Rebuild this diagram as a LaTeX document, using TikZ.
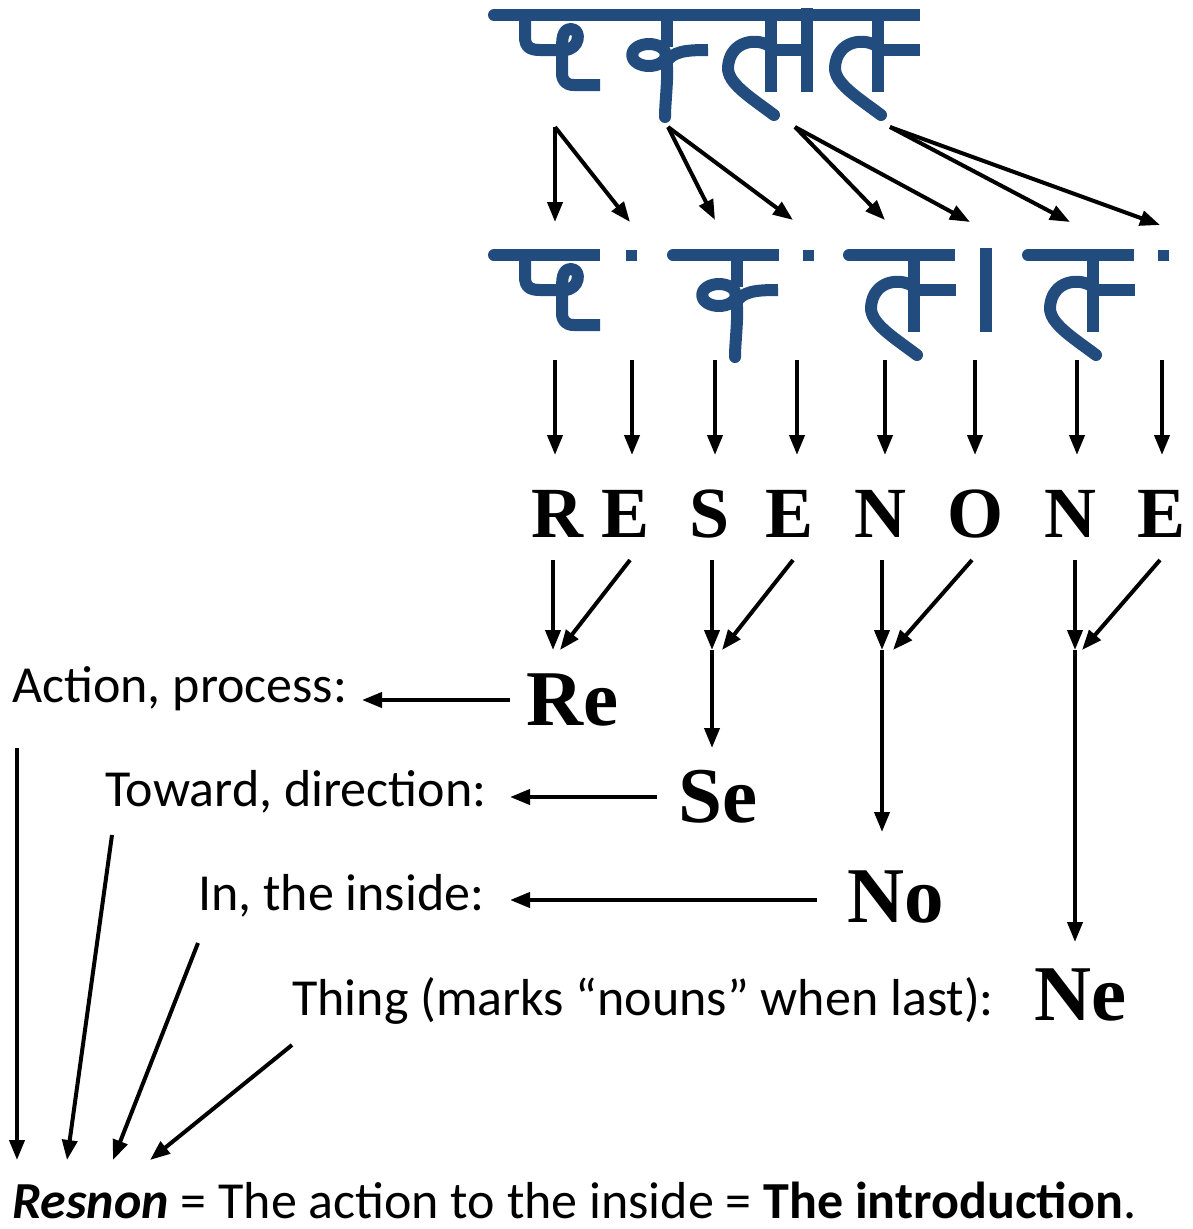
\documentclass[tikz,border=0pt]{standalone}
\usepackage{fontspec}
\setmainfont{Carlito}
\newfontfamily\serifb{Liberation Serif}
\usetikzlibrary{arrows.meta}
\definecolor{glyphblue}{HTML}{224B7E}
\begin{document}
\begin{tikzpicture}[x=1pt,y=-1pt,
  arr/.style={line width=4pt,-{Triangle[length=20pt,width=15pt]}},
  stroke/.style={glyphblue,line width=12pt,line cap=butt,line join=round},
  lbl/.style={font=\fontsize{52}{60}\selectfont,anchor=base west,inner sep=0pt},
  big/.style={font=\serifb\bfseries\fontsize{79}{90}\selectfont,anchor=base,inner sep=0pt},
  letr/.style={font=\serifb\bfseries\fontsize{72}{80}\selectfont,anchor=base,inner sep=0pt},
  gpa/.pic={
    \draw[stroke] (37,0) -- (37,22) .. controls (37,32) and (42,35) .. (52,35) -- (76,35)
      .. controls (92,35) and (94,14) .. (83,14) .. controls (74,14) and (74,25) .. (74,35)
      -- (74,58) .. controls (74,66) and (78,70) .. (86,70) -- (112,70);
  },
  gka/.pic={
    \draw[stroke] (70,0) -- (70,32);
    \draw[stroke] (52,40) ellipse [x radius=17pt, y radius=11pt];
    \draw[stroke,line cap=round] (69,42) .. controls (72,60) and (68,85) .. (68,102);
    \draw[stroke] (69,48) .. controls (75,36) and (90,35) .. (111,35);
  },
  gla/.pic={
    \draw[stroke] (71,0) -- (71,77);
    \draw[stroke] (71,35) -- (113,35);
    \draw[stroke,line cap=round] (71,32) .. controls (58,22) and (30,25) .. (28,52)
      .. controls (27,68) and (50,82) .. (74,100);
  },
  headbar/.pic={
    \fill[glyphblue] (6,0) circle (6pt);
    \draw[stroke] (6,0) -- (\barlen,0);
  }
]
\useasboundingbox (0,0) rectangle (1192,1229);

% ---------- top word ----------
\def\barlen{432}
\pic at (488,15) {headbar};
\pic at (488,15) {gpa};
\pic at (597,15) {gka};
\pic at (700,15) {gla};
\draw[stroke] (807,8) -- (807,92);
\pic at (807,15) {gla};

% ---------- middle row ----------
\def\barlen{112}
\pic at (488,255) {headbar};
\pic at (488,255) {gpa};
\pic at (667,255) {headbar};
\pic at (667,255) {gka};
\pic at (843,255) {headbar};
\pic at (843,255) {gla};
\draw[stroke] (986,248) -- (986,332);
\pic at (1022,255) {headbar};
\pic at (1022,255) {gla};
\fill[glyphblue] (625.5,249.5) rectangle +(11,11);
\fill[glyphblue] (802.5,249.5) rectangle +(11,11);
\fill[glyphblue] (1157.5,249.5) rectangle +(11,11);

% ---------- arrows top -> middle ----------
\coordinate (a1) at (555,127);
\coordinate (a2) at (668,127);
\coordinate (a3) at (795,127);
\coordinate (a4) at (890,127);
\coordinate (b1) at (555,222);
\coordinate (b2) at (630,222);
\coordinate (b3) at (715,220);
\coordinate (b4) at (793,220);
\coordinate (b5) at (885,220);
\coordinate (b6) at (970,222);
\coordinate (b7) at (1070,222);
\coordinate (b8) at (1160,225);
\draw[arr] (a1) -- (b1);
\draw[arr] (a1) -- (b2);
\draw[arr] (a2) -- (b3);
\draw[arr] (a2) -- (b4);
\draw[arr] (a3) -- (b5);
\draw[arr] (a3) -- (b6);
\draw[arr] (a4) -- (b7);
\draw[arr] (a4) -- (b8);

% ---------- middle -> letters ----------
\foreach \i/\x in {1/555,2/632,3/715,4/797,5/885,6/975,7/1077,8/1162}{
  \coordinate (m\i) at (\x,360);
  \coordinate (n\i) at (\x,455);
  \draw[arr] (m\i) -- (n\i);
}

% ---------- letters ----------
\node[letr] (L1) at (557,537) {R};
\node[letr] (L2) at (626,537) {E};
\node[letr] (L3) at (710,537) {S};
\node[letr] (L4) at (790,537) {E};
\node[letr] (L5) at (880,537) {N};
\node[letr] (L6) at (975,537) {O};
\node[letr] (L7) at (1070,537) {N};
\node[letr] (L8) at (1161,537) {E};

% ---------- merged syllables ----------
\node[big] (Re) at (573,725) {Re};
\node[big] (Se) at (718,822) {Se};
\node[big] (No) at (896,922) {No};
\node[big] (Ne) at (1081,1020) {Ne};

\coordinate (r1) at (553,560); \coordinate (r2) at (630,560); \coordinate (rm) at (553,650); \coordinate (rm2) at (560,650);
\coordinate (s1) at (712,560); \coordinate (s2) at (793,560); \coordinate (sm) at (712,650); \coordinate (sm2) at (722,650); \coordinate (se) at (712,748);
\coordinate (o1) at (882,560); \coordinate (o2) at (972,560); \coordinate (om) at (882,650); \coordinate (om2) at (893,650); \coordinate (oe) at (882,832);
\coordinate (e1) at (1075,560); \coordinate (e2) at (1160,560); \coordinate (em) at (1075,650); \coordinate (em2) at (1082,650); \coordinate (ee) at (1075,942);
\draw[arr] (r1) -- (rm);
\draw[arr] (r2) -- (rm2);
\draw[arr] (s1) -- (sm);
\draw[arr] (s2) -- (sm2);
\draw[arr] (sm) -- (se);
\draw[arr] (o1) -- (om);
\draw[arr] (o2) -- (om2);
\draw[arr] (om) -- (oe);
\draw[arr] (e1) -- (em);
\draw[arr] (e2) -- (em2);
\draw[arr] (em) -- (ee);

% ---------- labels ----------
\node[lbl] (la) at (12,702) {Action, process:};
\node[lbl] (lb) at (105,806) {Toward, direction:};
\node[lbl] (lc) at (198,910) {In, the inside:};
\node[lbl] (ld) at (292,1015) {Thing (marks “nouns” when last):};

\coordinate (ha1) at (510,700); \coordinate (ha2) at (362,700);
\coordinate (hb1) at (657,797); \coordinate (hb2) at (510,797);
\coordinate (hc1) at (817,900); \coordinate (hc2) at (510,900);
\draw[arr] (ha1) -- (ha2);
\draw[arr] (hb1) -- (hb2);
\draw[arr] (hc1) -- (hc2);

% ---------- to the bottom line ----------
\coordinate (p1) at (17,748);  \coordinate (q1) at (17,1160);
\coordinate (p2) at (112,835); \coordinate (q2) at (67,1160);
\coordinate (p3) at (198,943); \coordinate (q3) at (113,1160);
\coordinate (p4) at (292,1045);\coordinate (q4) at (150,1160);
\draw[arr] (p1) -- (q1);
\draw[arr] (p2) -- (q2);
\draw[arr] (p3) -- (q3);
\draw[arr] (p4) -- (q4);

\node[lbl] (res) at (12,1218) {\textbf{\textit{Resnon}} = The action to the inside = \textbf{The introduction}.};
\end{tikzpicture}
\end{document}
